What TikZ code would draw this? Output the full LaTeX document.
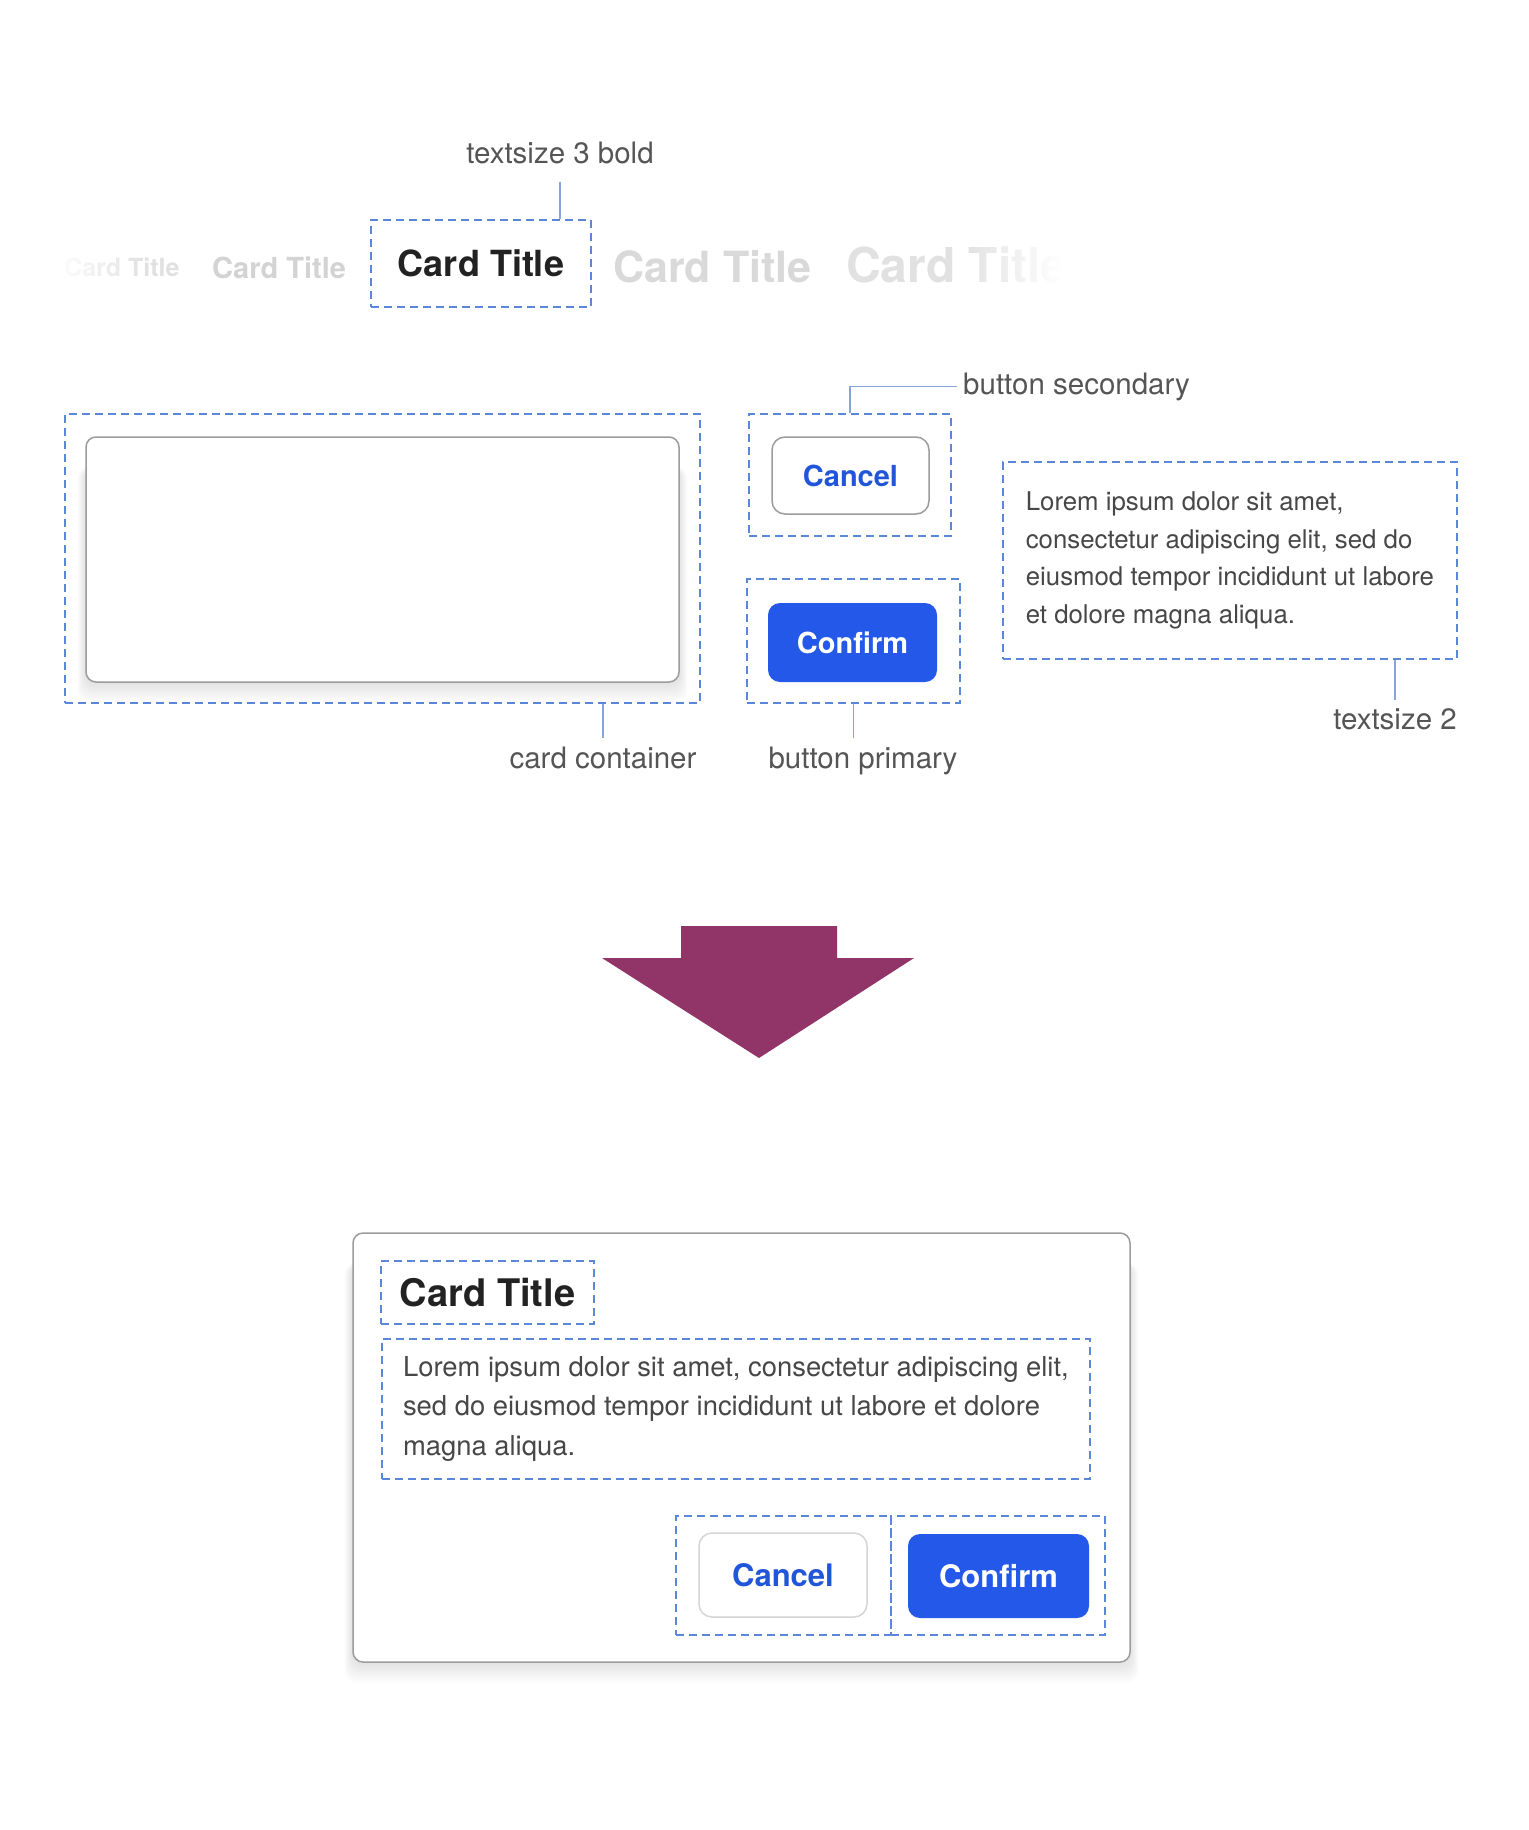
\documentclass[tikz,border=0pt]{standalone}
\usepackage{fontspec}
\setmainfont{TeX Gyre Heros}
\definecolor{dashblue}{HTML}{5A87D8}
\definecolor{connblue}{HTML}{86A5DB}
\definecolor{btnblue}{HTML}{2458E8}
\definecolor{txtblue}{HTML}{2156D9}
\definecolor{labgray}{HTML}{555555}
\definecolor{bodygray}{HTML}{474747}
\definecolor{titledark}{HTML}{222222}
\definecolor{arrowpurple}{HTML}{913467}
\definecolor{ghostA}{HTML}{E0E0E0}
\definecolor{ghostB}{HTML}{D3D3D3}
\definecolor{ghostD}{HTML}{D9D9D9}
\definecolor{ghostE}{HTML}{E1E1E1}
\definecolor{cardborder}{HTML}{9C9C9C}
\definecolor{lightborder}{HTML}{D5D5D5}
\newcommand{\fsz}[2]{\fontsize{#1}{#2}\selectfont}
\newcommand{\softshadowof}[1]{%
  \foreach \k in {1,...,14} {
    \fill[black, opacity=0.006, rounded corners=12pt]
      ([xshift=-0.6*\k pt, yshift=-30pt]#1.north west) rectangle ([xshift=0.6*\k pt, yshift=-1.5*\k pt]#1.south east);
  }}
\begin{document}
\begin{tikzpicture}[x=1pt,y=-1pt,
  dashbox/.style={draw=dashblue, line width=1.8pt, dash pattern=on 8pt off 5pt, inner sep=0pt},
  conn/.style={draw=connblue, line width=1.8pt},
  lab/.style={text=labgray, font=\fsz{29.5}{35}, inner xsep=6pt, inner ysep=8pt},
  ghost/.style={font=\bfseries\fsz{#1}{#1}, inner sep=0pt, anchor=base west},
  cardbox/.style={draw=cardborder, line width=1.5pt, fill=white, rounded corners=10pt},
  secbtn/.style={draw=#1, line width=1.5pt, fill=white, rounded corners=13pt, text=txtblue, inner sep=0pt},
  pribtn/.style={fill=btnblue, rounded corners=12pt, text=white, inner sep=0pt},
  bodytext/.style={text=bodygray, align=left, inner sep=0pt}
]
\useasboundingbox (0,0) rectangle (1528,1830);
\fill[white] (0,0) rectangle (1528,1830);

% ---------- top row of titles ----------
\node[ghost=25, text=ghostA] (tA) at (64,276) {Card Title};
\node[ghost=29, text=ghostB] (tB) at (212,278) {Card Title};
\node[dashbox, minimum width=220pt, minimum height=87pt, font=\bfseries\fsz{36}{36}, text=titledark] (tC) at (481,263.5) {Card Title};
\node[ghost=43, text=ghostD] (tD) at (613,282) {Card Title};
\node[ghost=48, text=ghostE] (tE) at (846,282) {Card Title};
% fades
\foreach \k in {0,...,17} {
  \fill[white, opacity={0.92*(1-\k/18)}] (58+5*\k,240) rectangle (63+5*\k,295);
}
\foreach \k in {0,...,19} {
  \fill[white, opacity={(\k+1)/20}] (965+5*\k,225) rectangle (970+5*\k,300);
}
\fill[white] (1065,225) rectangle (1130,300);

\node[lab, anchor=base, inner ysep=17pt] (tslab) at (560,164) {textsize 3 bold};
\draw[conn] (tslab.south) -- (tslab.south |- tC.north);

% ---------- middle section ----------
\node[dashbox, minimum width=635pt, minimum height=289pt] (ccbox) at (382.5,558.5) {};
\path (382.5,559.5) node[minimum width=593pt, minimum height=245pt, inner sep=0pt] (cardsh) {};
\softshadowof{cardsh}
\node[cardbox, minimum width=593pt, minimum height=245pt] (card) at (382.5,559.5) {};
\node[lab, anchor=base] (cclab) at (603,768) {card container};
\draw[conn] (cclab.north |- ccbox.south) -- (cclab.north);

\node[dashbox, minimum width=202pt, minimum height=122pt] (csbox) at (850,475) {};
\node[secbtn=cardborder, minimum width=157pt, minimum height=77pt, font=\bfseries\fsz{29}{29}] (cbtn) at (850.5,475.5) {Cancel};
\node[lab, anchor=base west] (bslab) at (957,394) {button secondary};
\draw[conn] (csbox.north) |- (bslab.west);

\node[dashbox, minimum width=213pt, minimum height=124pt] (cfbox) at (853.5,641) {};
\node[pribtn, minimum width=169pt, minimum height=79pt, font=\bfseries\fsz{29}{29}] (fbtn) at (852.5,642.5) {Confirm};
\node[lab, anchor=base] (bplab) at (863,768) {button primary};
\draw[conn] (cfbox.south) -- (cfbox.south |- bplab.north);

\node[dashbox, bodytext, anchor=north west, minimum width=454pt, minimum height=197pt, font=\fsz{25.8}{37.4}] (tsbox) at (1002,461)
  {Lorem ipsum dolor sit amet,\\consectetur adipiscing elit, sed do\\eiusmod tempor incididunt ut labore\\et dolore magna aliqua.};
\node[lab, anchor=base] (ts2lab) at (1395,729) {textsize 2};
\draw[conn] (ts2lab.north |- tsbox.south) -- (ts2lab.north);

% ---------- arrow ----------
\fill[arrowpurple] (681,926) -- (837,926) -- (837,958) -- (914,958) -- (759,1058) -- (602,958) -- (681,958) -- cycle;

% ---------- resulting card ----------
\path (741.5,1447.5) node[minimum width=777pt, minimum height=429pt, inner sep=0pt] (card2sh) {};
\softshadowof{card2sh}
\node[cardbox, minimum width=777pt, minimum height=429pt] (card2) at (741.5,1447.5) {};
\node[dashbox, minimum width=213pt, minimum height=63pt, font=\bfseries\fsz{38}{38}, text=titledark] (title2) at (487.5,1292.5) {Card Title};
\node[dashbox, bodytext, anchor=north west, minimum width=708pt, minimum height=140pt, font=\fsz{27.4}{39.5}] (body2) at (381,1338)
  {Lorem ipsum dolor sit amet, consectetur adipiscing elit,\\sed do eiusmod tempor incididunt ut labore et dolore\\magna aliqua.};
\node[dashbox, minimum width=215pt, minimum height=119pt] (cbox2) at (783.5,1575.5) {};
\node[dashbox, minimum width=214pt, minimum height=119pt] (fbox2) at (998,1575.5) {};
\node[secbtn=lightborder, minimum width=168pt, minimum height=84pt, font=\bfseries\fsz{31}{31}] (cbtn2) at (783,1575) {Cancel};
\node[pribtn, minimum width=181pt, minimum height=84pt, font=\bfseries\fsz{31}{31}] (fbtn2) at (998.5,1576) {Confirm};
\end{tikzpicture}
\end{document}
